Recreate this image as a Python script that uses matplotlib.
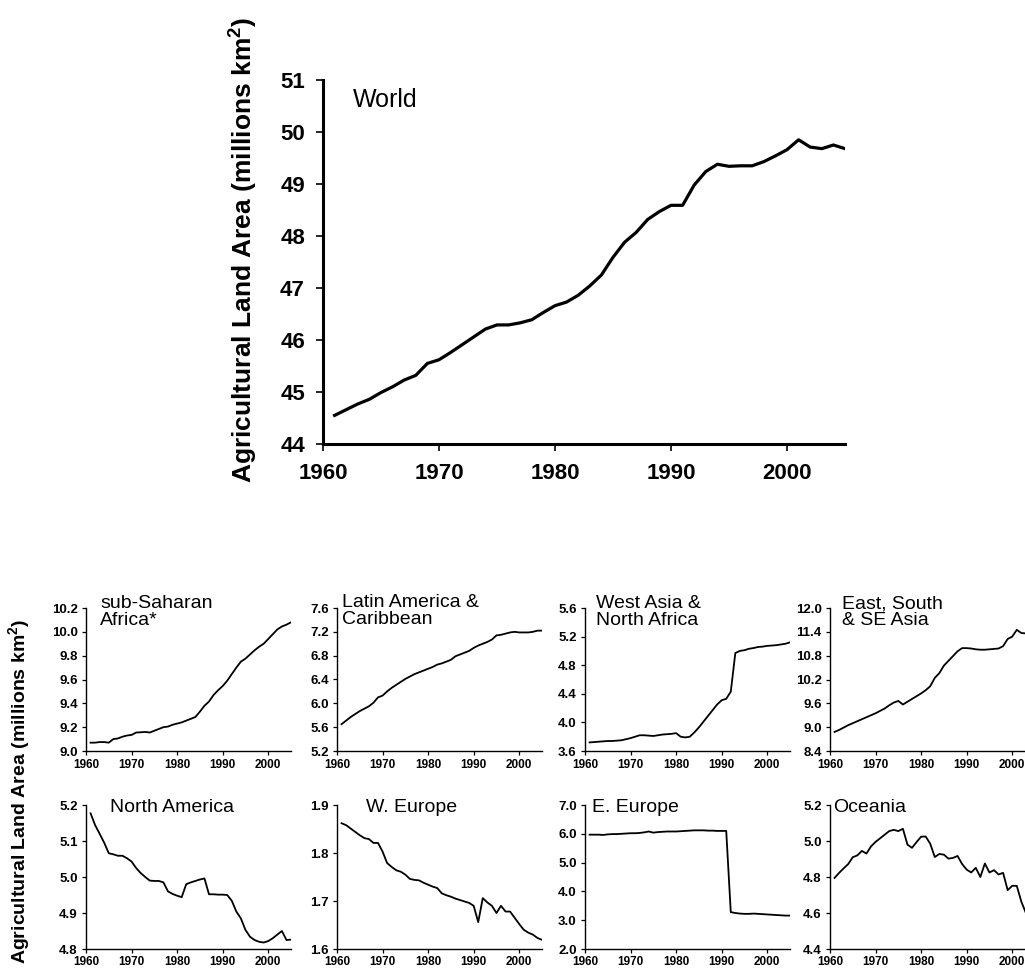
import matplotlib
matplotlib.use("Agg")
import matplotlib.pyplot as plt
import numpy as np

plt.rcParams['font.family'] = ['Liberation Sans', 'DejaVu Sans']
plt.rcParams['mathtext.fontset'] = 'custom'
plt.rcParams['mathtext.rm'] = 'Liberation Sans'
plt.rcParams['mathtext.bf'] = 'Liberation Sans:bold'

years = list(range(1961, 2006))

world = [44.55, 44.66, 44.77, 44.86, 44.99, 45.10, 45.23, 45.32, 45.55, 45.62,
         45.76, 45.91, 46.06, 46.21, 46.29, 46.29, 46.33, 46.39, 46.53, 46.66,
         46.73, 46.86, 47.04, 47.25, 47.59, 47.88, 48.07, 48.32, 48.47, 48.59,
         48.59, 48.98, 49.24, 49.38, 49.34, 49.35, 49.35, 49.43, 49.54, 49.66,
         49.85, 49.71, 49.68, 49.75, 49.68]

ssa = [9.07, 9.07, 9.075, 9.075, 9.07, 9.10, 9.105, 9.12, 9.13, 9.135,
       9.155, 9.157, 9.16, 9.155, 9.17, 9.185, 9.20, 9.205, 9.22, 9.23,
       9.24, 9.255, 9.27, 9.285, 9.33, 9.38, 9.415, 9.47, 9.51, 9.545,
       9.59, 9.645, 9.70, 9.75, 9.775, 9.81, 9.845, 9.875, 9.90, 9.94,
       9.98, 10.02, 10.045, 10.06, 10.08]

latam = [5.65, 5.71, 5.77, 5.82, 5.87, 5.91, 5.95, 6.01, 6.10, 6.13,
         6.20, 6.26, 6.31, 6.36, 6.41, 6.45, 6.49, 6.52, 6.55, 6.58,
         6.61, 6.65, 6.67, 6.70, 6.73, 6.79, 6.82, 6.85, 6.88, 6.93,
         6.97, 7.00, 7.03, 7.07, 7.14, 7.15, 7.17, 7.19, 7.20, 7.19,
         7.19, 7.19, 7.20, 7.22, 7.22]

wana = [3.72, 3.725, 3.73, 3.735, 3.74, 3.74, 3.745, 3.75, 3.765, 3.78,
        3.80, 3.82, 3.82, 3.815, 3.81, 3.82, 3.83, 3.835, 3.84, 3.85,
        3.80, 3.79, 3.80, 3.86, 3.93, 4.01, 4.09, 4.17, 4.25, 4.31,
        4.33, 4.43, 4.97, 5.00, 5.01, 5.03, 5.04, 5.055, 5.06, 5.07,
        5.075, 5.08, 5.09, 5.10, 5.12]

easia = [8.88, 8.93, 8.99, 9.05, 9.10, 9.15, 9.20, 9.25, 9.30, 9.35,
         9.41, 9.47, 9.55, 9.62, 9.66, 9.57, 9.64, 9.71, 9.78, 9.85,
         9.93, 10.03, 10.24, 10.36, 10.55, 10.67, 10.79, 10.91, 10.99, 10.99,
         10.98, 10.96, 10.95, 10.95, 10.96, 10.97, 10.98, 11.04, 11.22, 11.28,
         11.45, 11.37, 11.36, 11.36, 11.38]

namer = [5.177, 5.144, 5.12, 5.095, 5.066, 5.063, 5.059, 5.059, 5.052, 5.043,
         5.025, 5.011, 5.0, 4.99, 4.989, 4.989, 4.985, 4.96, 4.953, 4.948,
         4.944, 4.98, 4.985, 4.989, 4.993, 4.996, 4.952, 4.952, 4.951, 4.951,
         4.95, 4.934, 4.904, 4.885, 4.853, 4.834, 4.825, 4.82, 4.818, 4.822,
         4.83, 4.84, 4.85, 4.825, 4.826]

weur = [1.862, 1.858, 1.851, 1.844, 1.837, 1.831, 1.829, 1.821, 1.821, 1.803,
        1.779, 1.771, 1.764, 1.761, 1.755, 1.746, 1.744, 1.743, 1.738, 1.734,
        1.730, 1.727, 1.716, 1.712, 1.709, 1.705, 1.702, 1.699, 1.696, 1.690,
        1.656, 1.706, 1.697, 1.690, 1.675, 1.690, 1.678, 1.678, 1.665, 1.652,
        1.640, 1.634, 1.630, 1.623, 1.619]

eeur = [5.97, 5.97, 5.97, 5.96, 5.98, 5.99, 5.99, 6.00, 6.01, 6.02,
        6.02, 6.03, 6.05, 6.08, 6.04, 6.06, 6.07, 6.08, 6.08, 6.08,
        6.09, 6.10, 6.11, 6.12, 6.12, 6.12, 6.11, 6.11, 6.10, 6.10,
        6.10, 3.28, 3.25, 3.23, 3.22, 3.22, 3.23, 3.22, 3.21, 3.20,
        3.19, 3.18, 3.17, 3.16, 3.16]

oceania = [4.795, 4.823, 4.848, 4.872, 4.91, 4.92, 4.945, 4.93, 4.97, 4.995,
           5.015, 5.035, 5.055, 5.062, 5.055, 5.068, 4.98, 4.962, 4.994, 5.024,
           5.025, 4.985, 4.911, 4.928, 4.924, 4.902, 4.906, 4.917, 4.872, 4.841,
           4.825, 4.851, 4.80, 4.875, 4.825, 4.838, 4.814, 4.823, 4.727, 4.751,
           4.751, 4.663, 4.60, 4.55, 4.50]

xticks = [1960, 1970, 1980, 1990, 2000]

panels = [
    ("sub-Saharan\nAfrica*", ssa, (9.0, 10.2, 0.2), "%.1f", 0.068, 1.09),
    ("Latin America &\nCaribbean", latam, (5.2, 7.6, 0.4), "%.1f", 0.024, 1.10),
    ("West Asia &\nNorth Africa", wana, (3.6, 5.6, 0.4), "%.1f", 0.054, 1.09),
    ("East, South\n& SE Asia", easia, (8.4, 12.0, 0.6), "%.1f", 0.059, 1.09),
    ("North America", namer, (4.8, 5.2, 0.1), "%.1f", 0.117, 1.04),
    ("W. Europe", weur, (1.6, 1.9, 0.1), "%.1f", 0.14, 1.04),
    ("E. Europe", eeur, (2.0, 7.0, 1.0), "%.1f", 0.034, 1.04),
    ("Oceania", oceania, (4.4, 5.2, 0.2), "%.1f", 0.015, 1.04),
]

W, H = 1025, 971
fig = plt.figure(figsize=(W / 100, H / 100), dpi=100)

def frac(left, top, right, bottom):
    return [left / W, 1 - bottom / H, (right - left) / W, (bottom - top) / H]

# World
ax = fig.add_axes(frac(323, 80, 845, 444))
ax.plot(years, world, color='black', lw=2.3, solid_joinstyle='round')
ax.set_xlim(1960, 2005)
ax.set_ylim(44, 51)
ax.set_xticks(xticks)
ax.set_yticks(range(44, 52))
for s in ['top', 'right']:
    ax.spines[s].set_visible(False)
for s in ['left', 'bottom']:
    ax.spines[s].set_linewidth(2.2)
ax.tick_params(axis='both', direction='out', length=5, width=1.2, labelsize=16)
ax.tick_params(axis='y', pad=8)
ax.tick_params(axis='x', pad=9)
for lab in ax.get_xticklabels() + ax.get_yticklabels():
    lab.set_fontweight('bold')
ax.text(0.057, 0.978, "World", transform=ax.transAxes, fontsize=18,
        ha='left', va='top')
fig.text(243 / W, 1 - 250 / H, "Agricultural Land Area (millions km$^\\mathbf{2}$)",
         rotation=90, ha='center', va='center', fontsize=19, fontweight='bold')

lefts = [86, 337, 585, 830]
rows = [(608, 751), (805, 949)]
for i, (title, vals, (ylo, yhi, step), fmt, tx, ty) in enumerate(panels):
    r, c = divmod(i, 4)
    top, bot = rows[r]
    a = fig.add_axes(frac(lefts[c], top, lefts[c] + 205, bot))
    a.plot(years, vals, color='black', lw=1.3)
    a.set_xlim(1960, 2005)
    a.set_ylim(ylo, yhi)
    a.set_xticks(xticks)
    yt = np.arange(ylo, yhi + step / 2, step)
    a.set_yticks(yt)
    a.set_yticklabels([fmt % v for v in yt])
    for s in ['top', 'right']:
        a.spines[s].set_visible(False)
    for s in ['left', 'bottom']:
        a.spines[s].set_linewidth(1.0)
    a.tick_params(axis='both', direction='out', length=3, width=0.9)
    a.tick_params(axis='y', pad=3, labelsize=9.5)
    a.tick_params(axis='x', pad=3 if r == 0 else 2, labelsize=8.5)
    for lab in a.get_xticklabels() + a.get_yticklabels():
        lab.set_fontweight('bold')
    a.text(tx, ty, title, transform=a.transAxes, fontsize=14,
           ha='left', va='top', linespacing=1.0)

fig.text(20 / W, 1 - 791 / H, "Agricultural Land Area (millions km$^\\mathbf{2}$)",
         rotation=90, ha='center', va='center', fontsize=14, fontweight='bold')

fig.savefig("out.png", dpi=100)
